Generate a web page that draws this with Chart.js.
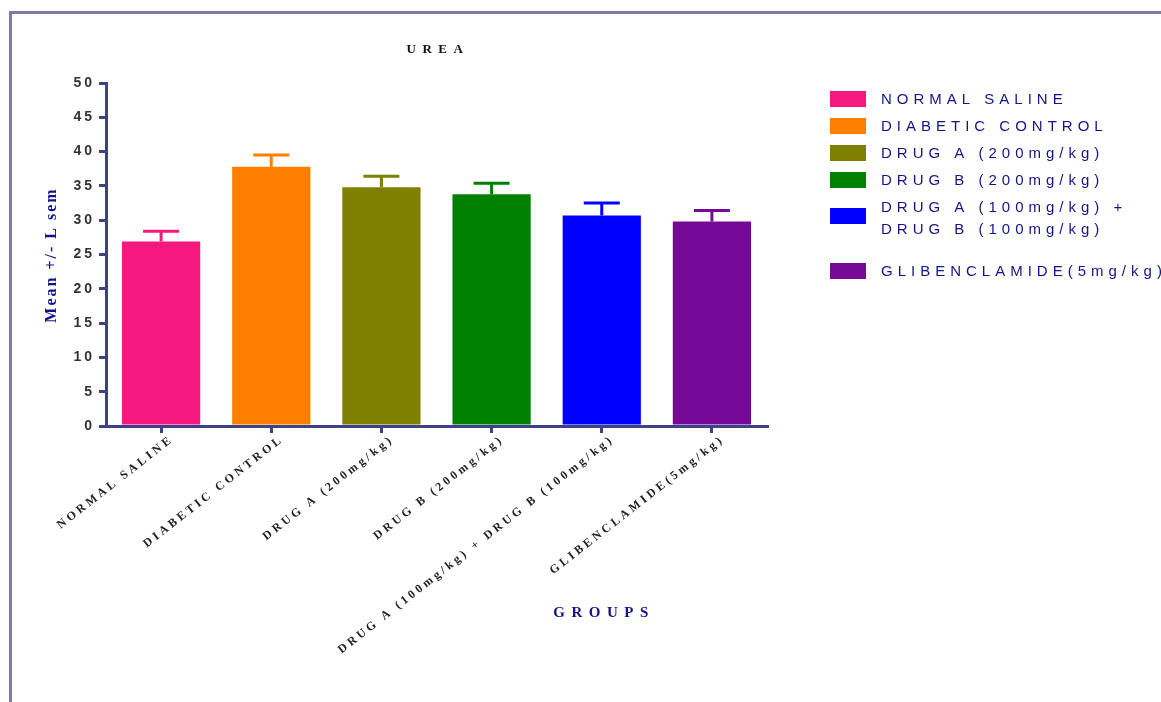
<!DOCTYPE html>
<html>
<head>
<meta charset="utf-8">
<script src="https://cdn.jsdelivr.net/npm/chart.js@4"></script>
<style>
  html, body { margin: 0; padding: 0; background: #fff; }
  #wrap { position: relative; width: 1161px; height: 702px; overflow: hidden; }
  #frame { position: absolute; left: 9px; top: 11px; right: -10px; bottom: -10px;
           border-left: 3px solid #7b7ba8; border-top: 3px solid #7b7ba8; pointer-events: none; }
  canvas { position: absolute; left: 0; top: 0; }
</style>
</head>
<body>
<div id="wrap">
  <canvas id="chart" width="1161" height="702"></canvas>
  <div id="frame"></div>
</div>
<script>
// data
const categories = ['NORMAL SALINE', 'DIABETIC CONTROL', 'DRUG A (200mg/kg)', 'DRUG B (200mg/kg)',
  'DRUG A (100mg/kg) + DRUG B (100mg/kg)', 'GLIBENCLAMIDE(5mg/kg)'];
const legendLabels = [['NORMAL SALINE'], ['DIABETIC CONTROL'], ['DRUG A (200mg/kg)'], ['DRUG B (200mg/kg)'],
  ['DRUG A (100mg/kg) +', 'DRUG B (100mg/kg)'], ['GLIBENCLAMIDE(5mg/kg)']];
const means = [26.9, 37.8, 34.8, 33.8, 30.7, 29.8];
const sems = [1.5, 1.7, 1.6, 1.6, 1.8, 1.6];
const barColors = ['#f5187f', '#ff8000', '#808000', '#008000', '#0000ff', '#760a96'];
const yTicks = [0, 5, 10, 15, 20, 25, 30, 35, 40, 45, 50];

const axisColor = '#3c4188';
const navy = '#14148a';

// upward error bars
const errorBars = {
  id: 'errorBars',
  afterDatasetsDraw(chart) {
    const ctx = chart.ctx;
    const y = chart.scales.y;
    chart.getDatasetMeta(0).data.forEach((bar, i) => {
      const top = y.getPixelForValue(means[i] + sems[i]);
      ctx.save();
      ctx.strokeStyle = barColors[i];
      ctx.lineWidth = 3;
      ctx.beginPath();
      ctx.moveTo(bar.x, bar.y);
      ctx.lineTo(bar.x, top);
      ctx.moveTo(bar.x - 18, top);
      ctx.lineTo(bar.x + 18, top);
      ctx.stroke();
      ctx.restore();
    });
  }
};

// titles, slanted group labels and legend, drawn with letter spacing
const extras = {
  id: 'extras',
  beforeUpdate(chart) { chart.ctx.letterSpacing = '3px'; },
  beforeDraw(chart) { chart.ctx.letterSpacing = '3px'; },
  afterDraw(chart) {
    const ctx = chart.ctx;
    const x = chart.scales.x;
    ctx.save();
    ctx.textBaseline = 'middle';

    // group labels
    ctx.fillStyle = '#222';
    ctx.font = 'bold 12px "Liberation Serif"';
    ctx.letterSpacing = '3.2px';
    ctx.textAlign = 'right';
    categories.forEach((c, i) => {
      ctx.save();
      ctx.translate(x.getPixelForTick(i) + 11, x.top + 12);
      ctx.rotate(-38 * Math.PI / 180);
      ctx.fillText(c, 0, 0);
      ctx.restore();
    });

    ctx.textAlign = 'center';
    ctx.fillStyle = '#111';
    ctx.font = 'bold 13px "Liberation Serif"';
    ctx.letterSpacing = '6.5px';
    ctx.fillText('UREA', 438, 50);

    ctx.fillStyle = navy;
    ctx.font = 'bold 15px "Liberation Serif"';
    ctx.letterSpacing = '6.5px';
    ctx.fillText('GROUPS', 604, 613);

    ctx.save();
    ctx.translate(52, 255);
    ctx.rotate(-Math.PI / 2);
    ctx.font = 'bold 16px "Liberation Serif"';
    ctx.letterSpacing = '2px';
    ctx.fillText('Mean +/- L sem', 0, 0);
    ctx.restore();

    // legend
    const rowsY = [100, 127, 154, 181, 208, 272];
    ctx.textAlign = 'left';
    ctx.font = '15px "Liberation Sans"';
    ctx.letterSpacing = '5px';
    legendLabels.forEach((lines, i) => {
      const cy = lines.length > 1 ? rowsY[i] + 8 : rowsY[i] - 1;
      ctx.fillStyle = barColors[i];
      ctx.fillRect(830, cy - 8, 36, 16);
      ctx.fillStyle = navy;
      lines.forEach((t, k) => ctx.fillText(t, 881, rowsY[i] + k * 22));
    });
    ctx.restore();
  }
};

new Chart(document.getElementById('chart'), {
  type: 'bar',
  data: {
    labels: categories,
    datasets: [{
      data: means,
      backgroundColor: barColors,
      borderWidth: 0,
      barPercentage: 0.71,
      categoryPercentage: 1
    }]
  },
  options: {
    responsive: false,
    animation: false,
    layout: { padding: { left: 0, top: 83, right: 394, bottom: 0 } },
    plugins: { legend: { display: false }, title: { display: false }, tooltip: { enabled: false } },
    scales: {
      x: {
        offset: true,
        afterFit(s) { s.height = 276; },
        border: { color: axisColor, width: 3 },
        grid: { offset: false, drawOnChartArea: false, color: axisColor, lineWidth: 3, tickLength: 7 },
        ticks: { display: false }
      },
      y: {
        min: 0, max: 50,
        afterFit(s) { s.width = 106; },
        afterBuildTicks(s) { s.ticks = yTicks.map(v => ({ value: v })); },
        border: { color: axisColor, width: 3 },
        grid: { drawOnChartArea: false, color: axisColor, lineWidth: 3, tickLength: 7 },
        ticks: {
          padding: 4,
          color: '#333', font: { family: 'Liberation Sans', size: 14, weight: 'bold' }
        }
      }
    }
  },
  plugins: [errorBars, extras]
});
</script>
</body>
</html>
